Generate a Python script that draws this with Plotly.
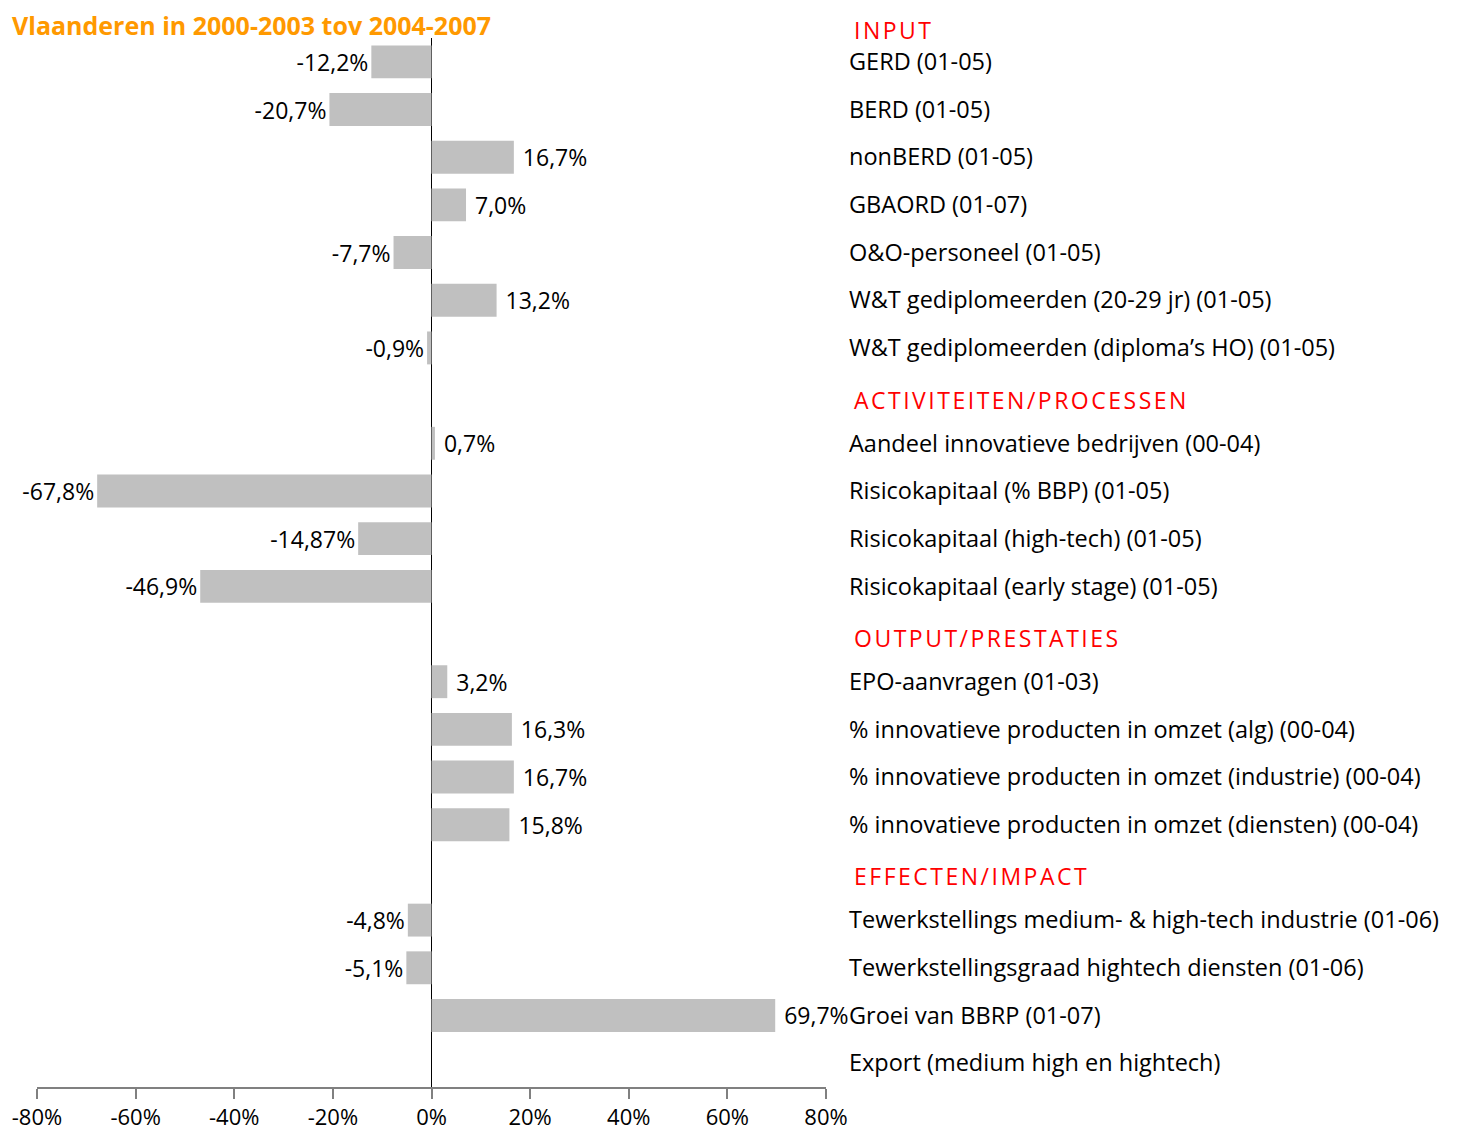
import plotly.graph_objects as go

# data
title = "Vlaanderen in 2000-2003 tov 2004-2007"

section_names = ["INPUT", "ACTIVITEITEN/PROCESSEN", "OUTPUT/PRESTATIES", "EFFECTEN/IMPACT"]

input_labels = ["GERD (01-05)", "BERD (01-05)", "nonBERD (01-05)", "GBAORD (01-07)",
                "O&O-personeel (01-05)", "W&T gediplomeerden (20-29 jr) (01-05)",
                "W&T gediplomeerden (diploma’s HO) (01-05)"]
input_values = [-12.2, -20.7, 16.7, 7.0, -7.7, 13.2, -0.9]
input_text = ["-12,2%", "-20,7%", "16,7%", "7,0%", "-7,7%", "13,2%", "-0,9%"]

activ_labels = ["Aandeel innovatieve bedrijven (00-04)", "Risicokapitaal (% BBP) (01-05)",
                "Risicokapitaal (high-tech) (01-05)", "Risicokapitaal (early stage) (01-05)"]
activ_values = [0.7, -67.8, -14.87, -46.9]
activ_text = ["0,7%", "-67,8%", "-14,87%", "-46,9%"]

output_labels = ["EPO-aanvragen (01-03)", "% innovatieve producten in omzet (alg) (00-04)",
                 "% innovatieve producten in omzet (industrie) (00-04)",
                 "% innovatieve producten in omzet (diensten) (00-04)"]
output_values = [3.2, 16.3, 16.7, 15.8]
output_text = ["3,2%", "16,3%", "16,7%", "15,8%"]

effect_labels = ["Tewerkstellings medium- & high-tech industrie (01-06)",
                 "Tewerkstellingsgraad hightech diensten (01-06)",
                 "Groei van BBRP (01-07)", "Export (medium high en hightech)"]
effect_values = [-4.8, -5.1, 69.7, None]
effect_text = ["-4,8%", "-5,1%", "69,7%", ""]

x_ticks = [-80, -60, -40, -20, 0, 20, 40, 60, 80]

sections = [
    (input_labels, input_values, input_text),
    (activ_labels, activ_values, activ_text),
    (output_labels, output_values, output_text),
    (effect_labels, effect_values, effect_text),
]

# lay the rows out, one empty slot per section header (except the first)
ys, labels, values, texts, header_ys = [], [], [], [], []
slot = 0
for i, (lab, val, txt) in enumerate(sections):
    if i > 0:
        header_ys.append(slot)
        slot += 1
    else:
        header_ys.append(-0.5)
    for l, v, t in zip(lab, val, txt):
        ys.append(slot)
        labels.append(l)
        values.append(v)
        # a bit more air after the positive bars
        texts.append("\u00a0" + t if v is not None and v >= 0 else t)
        slot += 1

FONT = "Open Sans"

fig = go.Figure(go.Bar(
    x=values, y=ys, orientation="h", width=0.69,
    marker_color="#C0C0C0", marker_line_width=0,
    text=texts, textposition="outside", cliponaxis=False, constraintext="none",
    textfont=dict(family=FONT, size=23, color="black"),
    hoverinfo="skip",
))

for name, hy in zip(section_names, header_ys):
    first = hy == -0.5
    fig.add_annotation(
        x=1, xref="paper", xanchor="left", xshift=26,
        y=hy, yref="y", yanchor="bottom" if first else "middle",
        yshift=-10 if first else -4,
        text=f'<span style="letter-spacing:2.5px">{name}</span>', showarrow=False,
        font=dict(family=FONT, size=23, color="#FF0000"),
    )

# the page body adds an 8px margin, so the figure is 8px smaller than the window
fig.update_layout(
    width=1449, height=1129,
    margin=dict(l=29, r=631, t=30, b=50),
    paper_bgcolor="white", plot_bgcolor="white",
    showlegend=False,
    title=dict(text=f"<b>{title}</b>", xref="container", x=4 / 1449, xanchor="left",
               y=1 - 18 / 1129, yanchor="middle",
               font=dict(family=FONT, size=25, color="#FF9900")),
    font=dict(family=FONT, color="black"),
)

fig.update_xaxes(
    range=[-80, 80], tickvals=x_ticks, ticktext=[f"{t}%" for t in x_ticks],
    ticks="outside", ticklen=10, tickcolor="#808080", tickwidth=1.5,
    showline=True, linecolor="#808080", linewidth=1.5,
    showgrid=False, zeroline=True, zerolinecolor="black", zerolinewidth=1,
    tickfont=dict(family=FONT, size=22, color="black"), ticklabelstandoff=0,
    automargin=False,
)
fig.update_yaxes(
    range=[21.5, -0.5], side="right", tickvals=ys, ticktext=labels,
    ticks="", showgrid=False, zeroline=False, showline=False,
    tickfont=dict(family=FONT, size=23.5, color="black"), ticklabelstandoff=22,
    automargin=False,
)

fig.write_html("out.html")
